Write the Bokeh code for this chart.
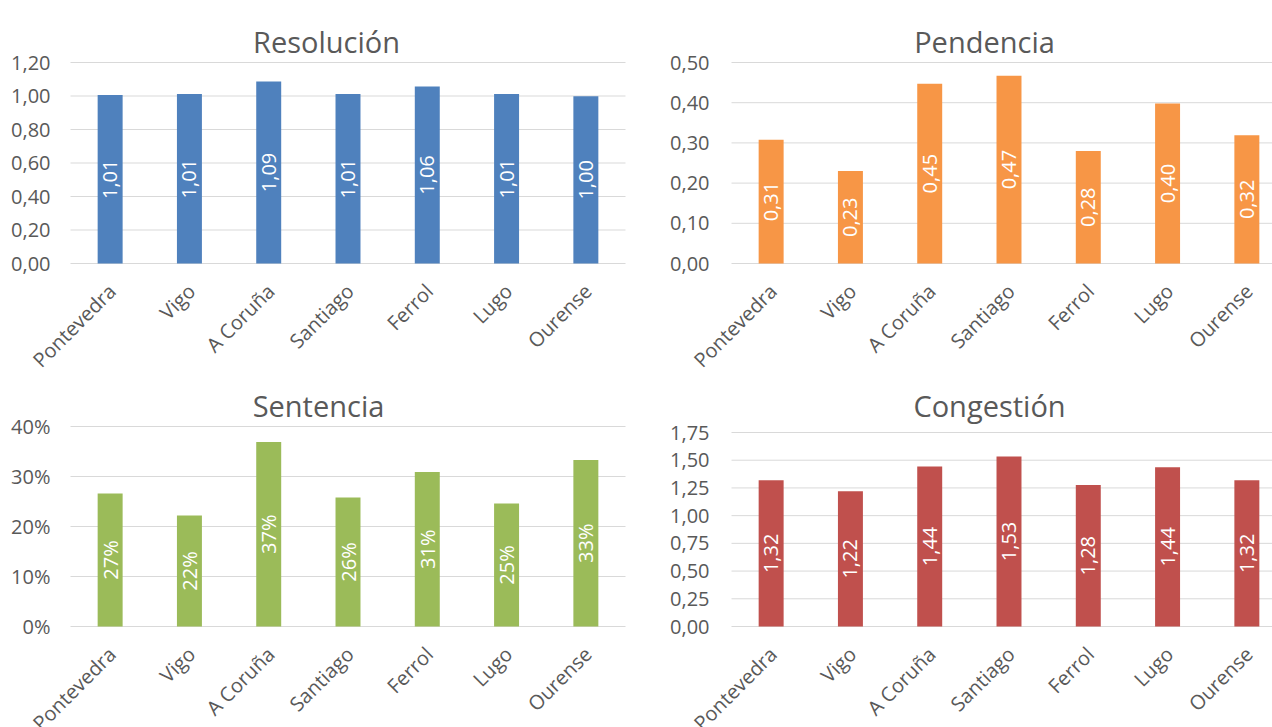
import math
from bokeh.plotting import figure
from bokeh.models import Range1d, Label, ColumnDataSource
from bokeh.layouts import column, row
from bokeh.embed import file_html
from bokeh.resources import INLINE
from bokeh.core.properties import value

# ---------------- data ----------------
categories = ["Pontevedra", "Vigo", "A Coruña", "Santiago", "Ferrol", "Lugo", "Ourense"]

resolucion = [1.006, 1.012, 1.087, 1.012, 1.057, 1.012, 0.999]
pendencia = [0.308, 0.230, 0.447, 0.467, 0.280, 0.398, 0.319]
sentencia = [0.266, 0.222, 0.369, 0.258, 0.309, 0.246, 0.333]
congestion = [1.320, 1.221, 1.444, 1.534, 1.277, 1.437, 1.320]

res_ticks = [0.0, 0.2, 0.4, 0.6, 0.8, 1.0, 1.2]
pen_ticks = [0.0, 0.1, 0.2, 0.3, 0.4, 0.5]
sen_ticks = [0.0, 0.1, 0.2, 0.3, 0.4]
con_ticks = [0.0, 0.25, 0.5, 0.75, 1.0, 1.25, 1.5, 1.75]

titles = ["Resolución", "Pendencia", "Sentencia", "Congestión"]
colors = ["#4F81BD", "#F79646", "#9BBB59", "#C0504D"]

# ---------------- style ----------------
FONT = "Open Sans"
TXT = "#595959"
GRID = "#D9D9D9"
UNIT = (625 - 70) / 7.0       # pixels per category slot


def fmt_dec(v):
    return f"{v:.2f}".replace(".", ",")


def fmt_pct(v):
    return f"{round(v * 100)}%"


def panel(title, vals, color, ticks, pct, width, height, bl, br,
          top_px, zero_px, title_cx, title_base, label_standoff):
    n = len(categories)
    xs = list(range(n))
    fmt = fmt_pct if pct else fmt_dec
    labels = [fmt(v) for v in vals]

    s = ticks[-1] / float(zero_px - top_px)          # data units per pixel
    y_start = -(height - zero_px) * s
    y_end = ticks[-1] + top_px * s
    x_start = -0.5 - bl / UNIT
    x_end = x_start + width / UNIT
    x_plot0 = -0.5
    x_plot1 = -0.5 + (width - bl - br) / UNIT

    p = figure(width=width, height=height, output_backend="svg", toolbar_location=None,
               x_range=Range1d(x_start, x_end), y_range=Range1d(y_start, y_end),
               min_border_left=0, min_border_right=0, min_border_top=0,
               min_border_bottom=0)
    p.outline_line_color = None
    p.background_fill_color = "white"
    p.border_fill_color = "white"
    p.axis.visible = False
    p.grid.visible = False

    # horizontal gridlines at the value ticks
    gsrc = ColumnDataSource(dict(x0=[x_plot0] * len(ticks), x1=[x_plot1] * len(ticks),
                                 y=ticks, lab=[fmt(t) for t in ticks]))
    p.segment(x0="x0", y0="y", x1="x1", y1="y", source=gsrc,
              line_color=GRID, line_width=1)
    # value axis labels
    p.text(x="x0", y="y", text="lab", source=gsrc, x_offset=-label_standoff,
           text_align="right", text_baseline="middle", text_color=TXT,
           text_font=value(FONT), text_font_size="20px")

    # bars and in-bar value labels
    src = ColumnDataSource(dict(x=xs, top=vals, mid=[v / 2 for v in vals], lab=labels))
    p.vbar(x="x", top="top", bottom=0, width=0.315, source=src,
           fill_color=color, line_color=None)
    p.text(x="x", y="mid", text="lab", source=src, angle=math.pi / 2,
           text_align="center", text_baseline="middle", text_color="white",
           text_font=value(FONT), text_font_size="20px")

    # category labels below the zero line
    csrc = ColumnDataSource(dict(x=xs, y=[0.0] * n, name=categories))
    p.text(x="x", y="y", text="name", source=csrc, angle=math.pi / 4,
           x_offset=2, y_offset=24,
           text_align="right", text_baseline="middle", text_color=TXT,
           text_font=value(FONT), text_font_size="20px")

    # chart title
    p.add_layout(Label(x=x_plot0 + (title_cx - bl) / UNIT,
                       y=(zero_px - title_base) * s,
                       text=title, text_align="center", text_baseline="alphabetic",
                       text_font=FONT, text_font_size="29px", text_color=TXT))
    return p


W_L, W_R = 640, 632
H_T = 374
H_B = 727 - H_T

p1 = panel(titles[0], resolucion, colors[0], res_ticks, False, W_L, H_T,
           70, 15, 62, 263, 326, 41, 20)
p2 = panel(titles[1], pendencia, colors[1], pen_ticks, False, W_R, H_T,
           91, 0, 62, 263, 984 - W_L, 41, 22)
p3 = panel(titles[2], sentencia, colors[2], sen_ticks, True, W_L, H_B,
           70, 15, 426 - H_T, 626 - H_T, 318, 405 - H_T, 20)
p4 = panel(titles[3], congestion, colors[3], con_ticks, False, W_R, H_B,
           91, 0, 432 - H_T, 626 - H_T, 989 - W_L, 405 - H_T, 22)

layout = column(row(p1, p2), row(p3, p4))

open("out.html", "w").write(file_html(layout, INLINE, "Indicadores"))
